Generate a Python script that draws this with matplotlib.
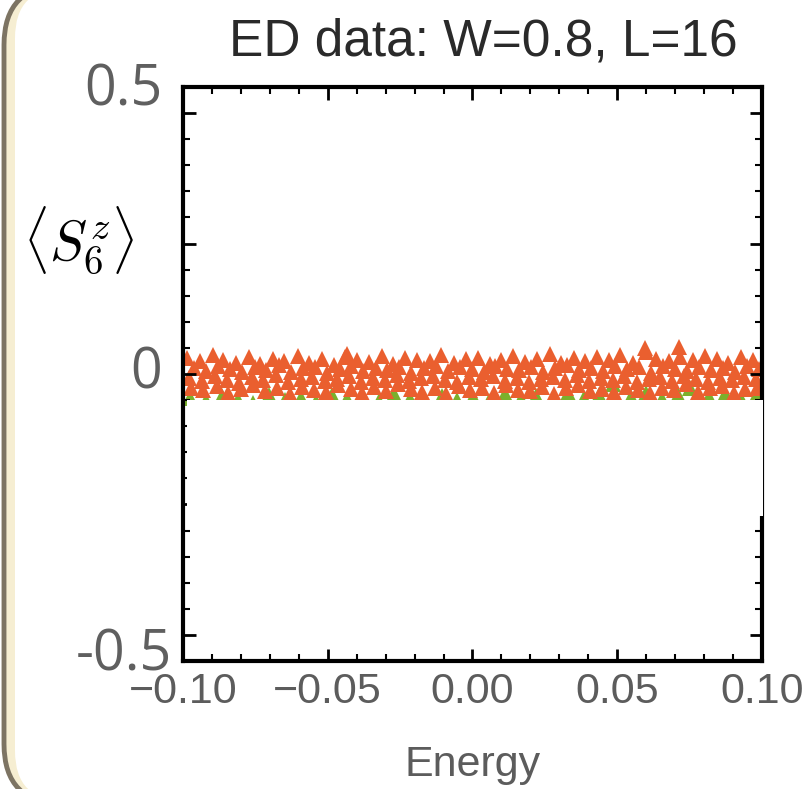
import matplotlib
matplotlib.use("Agg")
import matplotlib.pyplot as plt
from matplotlib.patches import FancyBboxPatch, Rectangle
from matplotlib.ticker import MultipleLocator

plt.rcParams["mathtext.fontset"] = "cm"

# ---- data ----
title = "ED data: W=0.8, L=16"
x_label = "Energy"
y_label = r"$\langle S_6^z\rangle$"
x_ticks = [-0.10, -0.05, 0.00, 0.05, 0.10]
x_tick_labels = ["\u22120.10", "\u22120.05", "0.00", "0.05", "0.10"]
y_marks = [0.5, 0.0, -0.5]
y_mark_labels = ["0.5", "0", "-0.5"]

# orange triangles, in four loose rows
orange_e_top = [-0.0985, -0.0942, -0.0897, -0.0861, -0.0818, -0.0772, -0.0735, -0.0689, -0.0651, -0.0603,
                -0.0566, -0.0521, -0.0480, -0.0442, -0.0398, -0.0357, -0.0311, -0.0276, -0.0232, -0.0190,
                -0.0148, -0.0109, -0.0063, -0.0024, 0.0018, 0.0059, 0.0097, 0.0141, 0.0183, 0.0222,
                0.0267, 0.0305, 0.0349, 0.0388, 0.0431, 0.0472, 0.0511, 0.0556, 0.0597, 0.0634,
                0.0679, 0.0718, 0.0762, 0.0803, 0.0845, 0.0884, 0.0927, 0.0968, 0.0712, 0.0601, -0.0433]
orange_sz_top = [0.031, 0.024, 0.036, 0.027, 0.022, 0.033, 0.019, 0.029, 0.025, 0.034,
                 0.021, 0.028, 0.018, 0.032, 0.026, 0.023, 0.035, 0.020, 0.030, 0.027,
                 0.024, 0.037, 0.022, 0.029, 0.031, 0.019, 0.026, 0.034, 0.023, 0.028,
                 0.038, 0.021, 0.030, 0.025, 0.033, 0.027, 0.036, 0.022, 0.050, 0.029,
                 0.024, 0.032, 0.026, 0.035, 0.028, 0.021, 0.033, 0.026, 0.051, 0.043, 0.038]
orange_e_mid = [-0.0963, -0.0921, -0.0879, -0.0838, -0.0795, -0.0753, -0.0712, -0.0668, -0.0627, -0.0584,
                -0.0543, -0.0502, -0.0459, -0.0418, -0.0377, -0.0333, -0.0294, -0.0253, -0.0211, -0.0169,
                -0.0127, -0.0085, -0.0044, -0.0003, 0.0038, 0.0079, 0.0120, 0.0162, 0.0203, 0.0245,
                0.0286, 0.0327, 0.0369, 0.0410, 0.0452, 0.0493, 0.0534, 0.0576, 0.0617, 0.0658,
                0.0699, 0.0741, 0.0782, 0.0824, 0.0865, 0.0906, 0.0948, 0.0989]
orange_sz_mid = [0.012, 0.006, 0.015, 0.009, 0.003, 0.013, 0.007, 0.017, 0.004, 0.011,
                 0.014, 0.002, 0.010, 0.016, 0.005, 0.012, 0.008, 0.014, 0.001, 0.011,
                 0.015, 0.006, 0.013, 0.009, 0.004, 0.016, 0.010, 0.007, 0.014, 0.003,
                 0.012, 0.017, 0.008, 0.011, 0.005, 0.015, 0.009, 0.013, 0.002, 0.016,
                 0.010, 0.006, 0.014, 0.008, 0.012, 0.004, 0.015, 0.010]
orange_e_low = [-0.0978, -0.0934, -0.0889, -0.0849, -0.0806, -0.0763, -0.0722, -0.0679, -0.0638, -0.0594,
                -0.0553, -0.0511, -0.0469, -0.0428, -0.0386, -0.0345, -0.0302, -0.0262, -0.0220, -0.0178,
                -0.0137, -0.0095, -0.0053, -0.0012, 0.0029, 0.0071, 0.0112, 0.0153, 0.0195, 0.0236,
                0.0277, 0.0319, 0.0360, 0.0402, 0.0443, 0.0484, 0.0525, 0.0567, 0.0608, 0.0649,
                0.0690, 0.0732, 0.0773, 0.0815, 0.0856, 0.0897, 0.0938, 0.0979]
orange_sz_low = [-0.008, -0.014, -0.004, -0.011, -0.017, -0.006, -0.012, -0.002, -0.015, -0.009,
                 -0.005, -0.013, -0.010, -0.003, -0.016, -0.007, -0.012, -0.001, -0.014, -0.008,
                 -0.004, -0.011, -0.015, -0.006, -0.009, -0.003, -0.013, -0.007, -0.016, -0.010,
                 -0.005, -0.012, -0.002, -0.014, -0.008, -0.011, -0.004, -0.015, -0.009, -0.006,
                 -0.013, -0.003, -0.010, -0.016, -0.007, -0.012, -0.005, -0.009]
orange_e_bot = [-0.0971, -0.0930, -0.0884, -0.0843, -0.0801, -0.0758, -0.0716, -0.0675, -0.0632, -0.0590,
                -0.0548, -0.0507, -0.0463, -0.0421, -0.0381, -0.0339, -0.0298, -0.0256, -0.0214, -0.0173,
                -0.0131, -0.0090, -0.0048, -0.0007, 0.0034, 0.0075, 0.0117, 0.0158, 0.0199, 0.0241,
                0.0282, 0.0323, 0.0365, 0.0406, 0.0448, 0.0489, 0.0530, 0.0572, 0.0613, 0.0654,
                0.0695, 0.0737, 0.0778, 0.0819, 0.0861, 0.0902, 0.0943, 0.0984]
orange_sz_bot = [-0.026, -0.031, -0.023, -0.036, -0.029, -0.021, -0.033, -0.027, -0.039, -0.024,
                 -0.030, -0.035, -0.022, -0.028, -0.037, -0.025, -0.032, -0.020, -0.029, -0.034,
                 -0.026, -0.038, -0.023, -0.031, -0.027, -0.036, -0.021, -0.030, -0.033, -0.025,
                 -0.039, -0.027, -0.022, -0.032, -0.028, -0.035, -0.024, -0.030, -0.037, -0.026,
                 -0.031, -0.020, -0.034, -0.027, -0.023, -0.036, -0.029, -0.026]

# green triangles, mostly hidden under the orange ones
green_e = [-0.0975, -0.0921, -0.0866, -0.0810, -0.0757, -0.0702, -0.0649, -0.0593, -0.0541, -0.0486,
           -0.0432, -0.0378, -0.0323, -0.0270, -0.0215, -0.0161, -0.0107, -0.0052, 0.0003, 0.0057,
           0.0112, 0.0166, 0.0221, 0.0275, 0.0329, 0.0384, 0.0438, 0.0486, 0.0547, 0.0601,
           0.0655, 0.0709, 0.0751, 0.0818, 0.0872, 0.0926, 0.0981]
green_sz = [-0.046, -0.052, -0.043, -0.049, -0.055, -0.041, -0.050, -0.046, -0.053, -0.040,
            -0.048, -0.044, -0.051, -0.038, -0.047, -0.054, -0.042, -0.049, -0.045, -0.052,
            -0.039, -0.047, -0.043, -0.050, -0.037, -0.046, -0.041, -0.020, -0.044, -0.036,
            -0.048, -0.040, -0.027, -0.045, -0.039, -0.047, -0.042]

orange = "#ea5f2f"
green = "#7bb02c"
label_gray = "#5c5c5c"

fig = plt.figure(figsize=(8.12, 7.89), dpi=100, facecolor="white")

# slide frame behind the plot (pixel coordinates)
bg = fig.add_axes([0, 0, 1, 1], zorder=-1)
bg.set_xlim(0, 812)
bg.set_ylim(789, 0)
bg.axis("off")
bg.add_patch(FancyBboxPatch((4, -15), 1000, 819, boxstyle="round,pad=0,rounding_size=60",
                            facecolor="#f6eed2", edgecolor="#7d7463", linewidth=3.5))
bg.add_patch(FancyBboxPatch((15, -12), 1000, 813, boxstyle="round,pad=0,rounding_size=50",
                            facecolor="white", edgecolor="none"))

ax = fig.add_axes([183 / 812, 1 - 661 / 789, 579 / 812, 574 / 789])
ax.set_xlim(-0.1, 0.1)
ax.set_ylim(-0.55, 0.55)

ax.plot(green_e, green_sz, ls="none", marker="^", ms=12, mew=0, color=green, zorder=2)
for e, s in [(orange_e_bot, orange_sz_bot), (orange_e_low, orange_sz_low),
             (orange_e_mid, orange_sz_mid), (orange_e_top, orange_sz_top)]:
    ax.plot(e, s, ls="none", marker="^", ms=12, mew=0, color=orange, zorder=2.2)

# the white box pasted over the lower part of the data
ax.add_patch(Rectangle((-0.0985, -0.273), 0.199, 0.223, facecolor="white",
                       edgecolor="none", zorder=3, clip_on=False))

for sp in ax.spines.values():
    sp.set_linewidth(3)
ax.set_axisbelow(False)
ax.xaxis.set_major_locator(MultipleLocator(0.05))
ax.xaxis.set_minor_locator(MultipleLocator(0.01))
ax.yaxis.set_major_locator(MultipleLocator(0.25))
ax.yaxis.set_minor_locator(MultipleLocator(0.05))
ax.tick_params(which="both", direction="in", top=True, right=True, color="black")
ax.tick_params(which="major", length=9, width=2)
ax.tick_params(which="minor", length=5, width=1.5)
ax.set_xticks(x_ticks)
ax.set_xticklabels(x_tick_labels, fontsize=31, color=label_gray, family="Liberation Sans")
ax.tick_params(axis="x", pad=8)
ax.set_yticklabels([])

ax.set_xlabel(x_label, fontsize=31, color=label_gray, family="Liberation Sans", labelpad=24)

ax.text(0.5 + 11 / 579, 1 + 45 / 574, title, transform=ax.transAxes, ha="center", va="center",
        fontsize=37, color="#2a2a2a", family="Liberation Sans")

ax.set_ylabel(y_label, rotation=0, fontsize=40, color="black", ha="center", va="center")
ax.yaxis.set_label_coords(-104 / 579, 1 - 153 / 574)

# hand-placed y labels of the slide
y_offsets = [22, 0, -21]
y_right = [-20, -21, -11]
for v, lab, dy, dx in zip(y_marks, y_mark_labels, y_offsets, y_right):
    ax.annotate(lab, xy=(0, v), xycoords=("axes fraction", "data"), xytext=(dx, dy),
                textcoords="offset pixels", ha="right", va="center", fontsize=40,
                color="#5f5f5f", family="Open Sans")

fig.savefig("out.png", dpi=100, facecolor="white")
